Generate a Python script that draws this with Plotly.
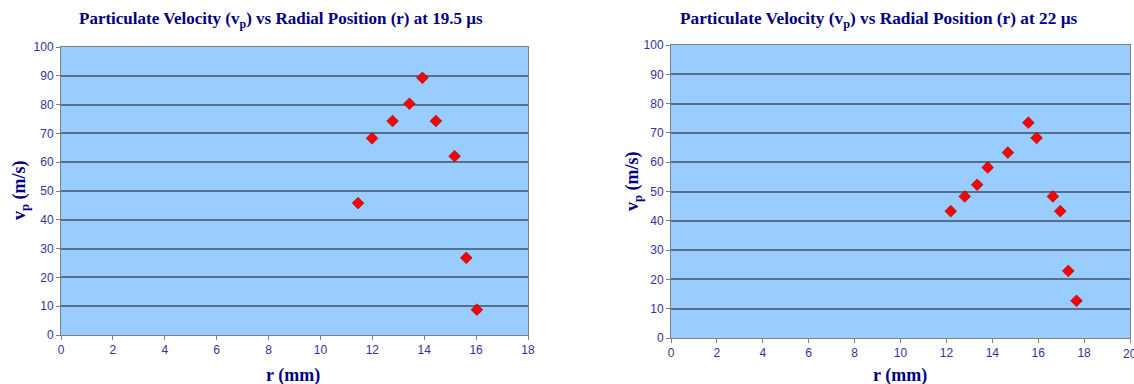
import plotly.graph_objects as go

# Data
r_195 = [11.45, 11.99, 12.78, 13.43, 13.93, 14.45, 15.17, 15.62, 16.03]
v_195 = [45.8, 68.3, 74.3, 80.3, 89.3, 74.3, 62.1, 26.8, 8.8]

r_22 = [12.19, 12.80, 13.34, 13.80, 14.68, 15.57, 15.93, 16.64, 16.96, 17.31, 17.67]
v_22 = [43.3, 48.3, 52.3, 58.2, 63.3, 73.5, 68.3, 48.3, 43.3, 22.9, 12.7]

title_195 = "Particulate Velocity (v<sub>p</sub>) vs Radial Position (r) at 19.5 µs"
title_22 = "Particulate Velocity (v<sub>p</sub>) vs Radial Position (r) at 22 µs"
x_title = "r (mm)"
y_title = "v<sub>p</sub> (m/s)"
x2_last_tick = 20

W, H = 1134, 384
NAVY = "#000080"
TICK = "#333399"
GRID = "#56708a"
PLOTBG = "#99CCFF"
SERIF = "Liberation Serif, Times New Roman, serif"
SANS = "Liberation Sans, Arial, sans-serif"

marker = dict(symbol="diamond", size=9, color="#FF0000", line=dict(color="#900000", width=0.6))

fig = go.Figure()
fig.add_trace(go.Scatter(x=r_195, y=v_195, mode="markers", marker=marker, xaxis="x", yaxis="y", showlegend=False))
fig.add_trace(go.Scatter(x=r_22, y=v_22, mode="markers", marker=marker, xaxis="x2", yaxis="y2", showlegend=False))

def xax(dom, rng, anchor):
    return dict(domain=dom, range=rng, dtick=2, tick0=0, anchor=anchor, automargin=False,
                showgrid=False, zeroline=False, showline=True, linecolor="#808080", linewidth=1,
                mirror=True, ticks="outside", ticklen=4, tickcolor="#808080",
                tickfont=dict(family=SANS, size=12, color=TICK), fixedrange=True)

def yax(dom, anchor):
    return dict(domain=dom, range=[0, 100], dtick=10, tick0=0, anchor=anchor, automargin=False,
                showgrid=True, gridcolor=GRID, gridwidth=1.5, zeroline=False,
                showline=True, linecolor="#808080", linewidth=1, mirror=True,
                ticks="outside", ticklen=4, tickcolor="#808080",
                tickfont=dict(family=SANS, size=12, color=TICK), fixedrange=True)

fig.update_layout(
    width=W, height=H,
    margin=dict(l=0, r=0, t=0, b=0, autoexpand=False),
    paper_bgcolor="white",
    plot_bgcolor=PLOTBG,
    xaxis=xax([61 / W, 528 / W], [0, 18], "y"),
    yaxis=yax([49 / H, 337 / H], "x"),
    xaxis2=xax([671 / W, 1130 / W], [0, 20], "y2"),
    yaxis2=yax([46 / H, 339 / H], "x2"),
)

def ann(text, x, y, size, angle=0):
    fig.add_annotation(text=text, x=x / W, y=1 - y / H, xref="paper", yref="paper",
                       showarrow=False, textangle=angle, xanchor="center", yanchor="middle",
                       font=dict(family=SERIF, size=size, color=NAVY))

ann("<b>" + title_195 + "</b>", 281, 20, 17)
ann("<b>" + title_22 + "</b>", 879, 20, 17.3)
ann("<b>" + x_title + "</b>", 293, 375, 18)
ann("<b>" + x_title + "</b>", 900, 375, 18)
ann("<b>" + y_title + "</b>", 20, 190, 18, -90)
ann("<b>" + y_title + "</b>", 633, 181, 18, -90)

# last tick label of the right chart, clipped by the page edge as in the reference
fig.add_annotation(text=str(x2_last_tick), x=x2_last_tick, xref="x2", y=1 - 354 / H, yref="paper",
                   showarrow=False, xanchor="center", yanchor="middle",
                   font=dict(family=SANS, size=12, color=TICK))

fig.write_html("out.html",
               config={"displayModeBar": False},
               post_script="document.body.style.margin='0';document.body.style.overflow='hidden';")
